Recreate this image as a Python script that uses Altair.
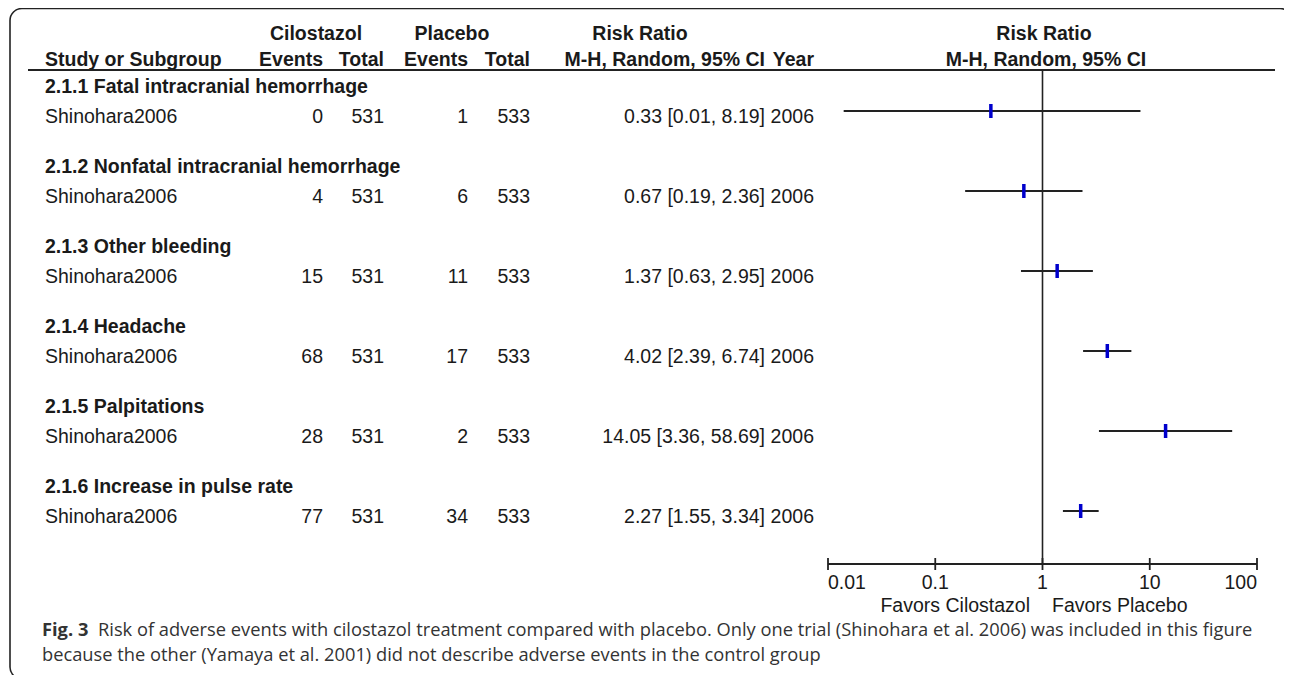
import altair as alt
import pandas as pd

# ---------------- data ----------------
subgroups = [
    "2.1.1 Fatal intracranial hemorrhage",
    "2.1.2 Nonfatal intracranial hemorrhage",
    "2.1.3 Other bleeding",
    "2.1.4 Headache",
    "2.1.5 Palpitations",
    "2.1.6 Increase in pulse rate",
]
studies = ["Shinohara2006"] * 6
cil_events = [0, 4, 15, 68, 28, 77]
cil_total = [531, 531, 531, 531, 531, 531]
pla_events = [1, 6, 11, 17, 2, 34]
pla_total = [533, 533, 533, 533, 533, 533]
risk_ratio = [0.33, 0.67, 1.37, 4.02, 14.05, 2.27]
ci_low = [0.014, 0.19, 0.63, 2.39, 3.36, 1.55]
ci_high = [8.19, 2.36, 2.95, 6.74, 58.69, 3.34]
years = [2006] * 6

axis_ticks = [0.01, 0.1, 1, 10, 100]
axis_labels = ["0.01", "0.1", "1", "10", "100"]

caption_bold = "Fig. 3"
caption_line1 = ("Risk of adverse events with cilostazol treatment compared with placebo. "
                 "Only one trial (Shinohara et al. 2006) was included in this figure")
caption_line2 = ("because the other (Yamaya et al. 2001) did not describe adverse events "
                 "in the control group")

# ---------------- tables ----------------
study_df = pd.DataFrame({
    "r": [3 * k + 1 for k in range(6)],
    "name": studies,
    "ce": [str(v) for v in cil_events],
    "ct": [str(v) for v in cil_total],
    "pe": [str(v) for v in pla_events],
    "pt": [str(v) for v in pla_total],
    "rr": risk_ratio,
    "lo": ci_low,
    "hi": ci_high,
    "label": [f"{a:.2f} [{b:.2f}, {c:.2f}]" for a, b, c in zip(risk_ratio, ci_low, ci_high)],
    "year": [str(y) for y in years],
})
group_df = pd.DataFrame({"r": [3 * k for k in range(6)], "name": subgroups})
tick_df = pd.DataFrame({"t": axis_ticks, "lab": axis_labels, "i": list(range(len(axis_ticks)))})
one = pd.DataFrame({"a": [0.01], "b": [100], "one": [1]})

W, H = 1276, 667
FONT = "Liberation Sans"
FS = 19.5
INK = "#1a1a1a"
CAP_FONT = "Open Sans"
CAP_FS = 18.3
CAP_INK = "#333333"

yscale = alt.Scale(domain=[0, 18], range=[76.33, 556.33], nice=False, zero=False)
xscale = alt.Scale(type="log", domain=[0.01, 100], range=[820, 1249], nice=False)
Y = alt.Y("r:Q", scale=yscale, axis=None)


def col_text(field, x, align, dy, df=study_df, bold=False):
    return alt.Chart(df).mark_text(
        align=align, baseline="middle", font=FONT, fontSize=FS, color=INK, dy=dy,
        fontWeight="bold" if bold else "normal",
    ).encode(x=alt.value(x), y=Y, text=alt.Text(f"{field}:N"))


def fixed_text(txt, x, y, align, bold=True, font=FONT, fs=FS, color=INK):
    return alt.Chart(one).mark_text(
        align=align, baseline="middle", font=font, fontSize=fs, color=color,
        fontWeight="bold" if bold else "normal",
    ).encode(x=alt.value(x), y=alt.value(y), text=alt.value(txt))


layers = []

# frame
layers.append(alt.Chart(one).mark_rect(
    fillOpacity=0, stroke="#222222", strokeWidth=1.6, cornerRadius=12
).encode(x=alt.value(2), x2=alt.value(1284), y=alt.value(0.5), y2=alt.value(671)))

# header
HY1, HY2 = 26, 52
layers += [
    fixed_text("Cilostazol", 308, HY1, "center"),
    fixed_text("Placebo", 444, HY1, "center"),
    fixed_text("Risk Ratio", 632, HY1, "center"),
    fixed_text("Risk Ratio", 1036, HY1, "center"),
    fixed_text("Study or Subgroup", 37, HY2, "left"),
    fixed_text("Events", 315, HY2, "right"),
    fixed_text("Total", 376, HY2, "right"),
    fixed_text("Events", 460, HY2, "right"),
    fixed_text("Total", 522, HY2, "right"),
    fixed_text("M-H, Random, 95% CI", 757, HY2, "right"),
    fixed_text("Year", 806, HY2, "right"),
    fixed_text("M-H, Random, 95% CI", 1038, HY2, "center"),
]
layers.append(alt.Chart(one).mark_rule(color="#222222", strokeWidth=2.2).encode(
    x=alt.value(20), x2=alt.value(1267), y=alt.value(62)))

# rows
layers.append(col_text("name", 37, "left", 2.7, df=group_df, bold=True))
layers += [
    col_text("name", 37, "left", 6),
    col_text("ce", 315, "right", 6),
    col_text("ct", 376, "right", 6),
    col_text("pe", 460, "right", 6),
    col_text("pt", 522, "right", 6),
    col_text("label", 757, "right", 6),
    col_text("year", 806, "right", 6),
]

# forest plot
layers.append(alt.Chart(one).mark_rule(color="#222222", strokeWidth=1.6).encode(
    x=alt.X("one:Q", scale=xscale, axis=None), y=alt.value(62), y2=alt.value(556)))
layers.append(alt.Chart(study_df).mark_rule(color="#222222", strokeWidth=1.8).encode(
    x=alt.X("lo:Q", scale=xscale, axis=None), x2="hi:Q", y=Y))
layers.append(alt.Chart(study_df).mark_tick(
    color="#0000cc", thickness=3.5, size=14, orient="vertical", opacity=1
).encode(x=alt.X("rr:Q", scale=xscale, axis=None), y=Y))

# axis
layers.append(alt.Chart(one).mark_rule(color="#222222", strokeWidth=1.8).encode(
    x=alt.X("a:Q", scale=xscale, axis=None), x2="b:Q", y=alt.value(556)))
layers.append(alt.Chart(tick_df).mark_rule(color="#222222", strokeWidth=1.8).encode(
    x=alt.X("t:Q", scale=xscale, axis=None), y=alt.value(550), y2=alt.value(562)))
for cond, align in [("datum.i == 0", "left"), ("datum.i > 0 && datum.i < 4", "center"),
                    ("datum.i == 4", "right")]:
    layers.append(alt.Chart(tick_df).transform_filter(cond).mark_text(
        align=align, baseline="middle", font=FONT, fontSize=FS, color=INK
    ).encode(x=alt.X("t:Q", scale=xscale, axis=None), y=alt.value(575), text="lab:N"))
layers.append(fixed_text("Favors Cilostazol", 1022, 598, "right", bold=False))
layers.append(fixed_text("Favors Placebo", 1044, 598, "left", bold=False))

# caption
layers.append(fixed_text(caption_bold, 34, 623, "left", bold=True, font=CAP_FONT, fs=CAP_FS, color=CAP_INK))
layers.append(fixed_text(caption_line1, 90, 623, "left", bold=False, font=CAP_FONT, fs=CAP_FS, color=CAP_INK))
layers.append(fixed_text(caption_line2, 34, 648, "left", bold=False, font=CAP_FONT, fs=CAP_FS, color=CAP_INK))

chart = alt.layer(*layers).properties(
    width=W, height=H, padding=0, autosize=alt.AutoSizeParams(type="none")
).configure_view(stroke=None)

chart.save("out.html", embed_options={"renderer": "svg", "actions": False})
